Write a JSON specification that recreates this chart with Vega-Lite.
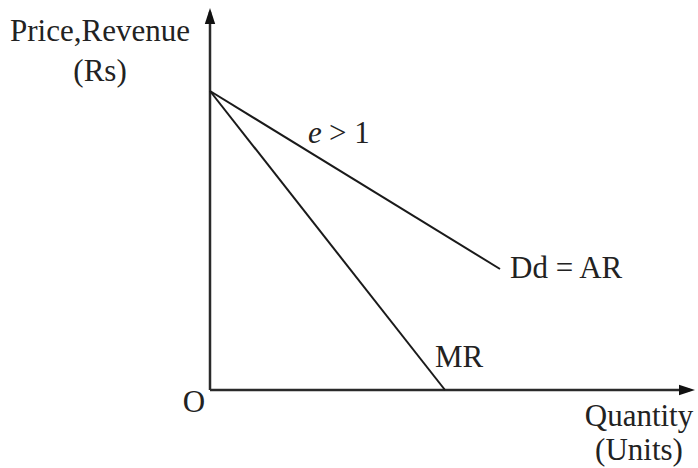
{
  "$schema": "https://vega.github.io/schema/vega-lite/v6.json",
  "width": 698,
  "height": 468,
  "padding": 0,
  "autosize": {"type": "none"},
  "background": "white",
  "view": {"stroke": null},
  "datasets": {
    "axes": [
      {"x": 0, "y": 0, "x2": 0, "y2": 378},
      {"x": 0, "y": 0, "x2": 480, "y2": 0}
    ],
    "curves": [
      {"s": "AR", "x": 0, "y": 299},
      {"s": "AR", "x": 290, "y": 121},
      {"s": "MR", "x": 0, "y": 299},
      {"s": "MR", "x": 235, "y": 0}
    ],
    "heads": [
      {"dir": "up", "x": 0, "y": 374},
      {"dir": "right", "x": 477, "y": 0}
    ],
    "center": [
      {"t": "Price,Revenue", "x": -110, "y": 349},
      {"t": "(Rs)", "x": -110, "y": 309},
      {"t": "O", "x": -16, "y": -22},
      {"t": "Quantity", "x": 429, "y": -36},
      {"t": "(Units)", "x": 429, "y": -70}
    ],
    "left": [
      {"t": "Dd = AR", "x": 300, "y": 112},
      {"t": "MR", "x": 225, "y": 23},
      {"t": "> 1", "x": 119, "y": 247}
    ],
    "ital": [
      {"t": "e", "x": 98, "y": 247}
    ]
  },
  "encoding": {
    "x": {"field": "x", "type": "quantitative", "scale": {"domain": [-210, 488], "nice": false, "zero": false}, "axis": null},
    "y": {"field": "y", "type": "quantitative", "scale": {"domain": [-78, 390], "nice": false, "zero": false}, "axis": null}
  },
  "layer": [
    {
      "data": {"name": "axes"},
      "mark": {"type": "rule", "color": "#2a2a2a", "strokeWidth": 2.5},
      "encoding": {
        "x2": {"field": "x2"},
        "y2": {"field": "y2"}
      }
    },
    {
      "data": {"name": "curves"},
      "mark": {"type": "line", "color": "#1a1a1a", "strokeWidth": 2},
      "encoding": {
        "detail": {"field": "s", "type": "nominal"}
      }
    },
    {
      "data": {"name": "heads"},
      "mark": {"type": "point", "filled": true, "opacity": 1, "color": "#111", "size": 256},
      "encoding": {
        "shape": {"field": "dir", "type": "nominal", "legend": null,
          "scale": {"domain": ["up", "right"], "range": ["M0,-1L0.65,1L-0.65,1Z", "M1,0L-1,0.65L-1,-0.65Z"]}}
      }
    },
    {
      "data": {"name": "center"},
      "mark": {"type": "text", "align": "center", "baseline": "alphabetic", "font": "Liberation Serif", "fontSize": 31, "color": "#222"},
      "encoding": {"text": {"field": "t"}}
    },
    {
      "data": {"name": "left"},
      "mark": {"type": "text", "align": "left", "baseline": "alphabetic", "font": "Liberation Serif", "fontSize": 31, "color": "#222"},
      "encoding": {"text": {"field": "t"}}
    },
    {
      "data": {"name": "ital"},
      "mark": {"type": "text", "align": "left", "baseline": "alphabetic", "font": "Liberation Serif", "fontStyle": "italic", "fontSize": 31, "color": "#222"},
      "encoding": {"text": {"field": "t"}}
    }
  ]
}
